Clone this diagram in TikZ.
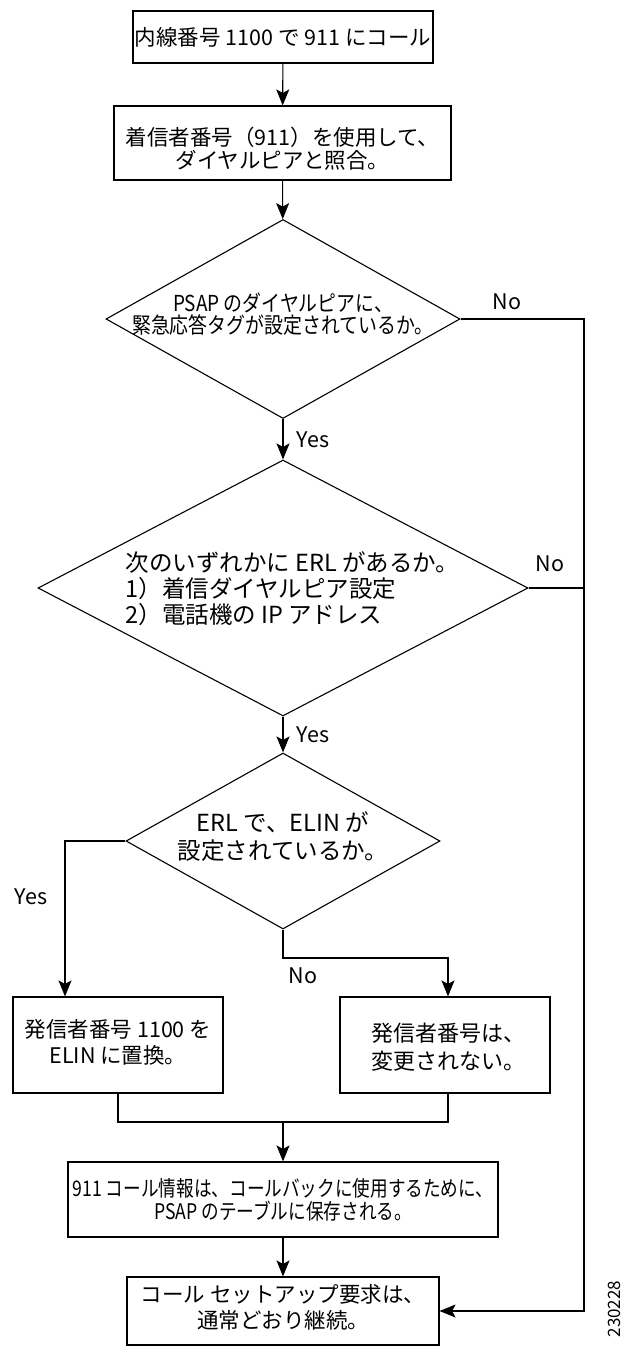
\documentclass[tikz,border=0pt]{standalone}
\usepackage{fontspec}
\setmainfont{Noto Sans CJK JP}
\newfontfamily\jpcond[FakeStretch=0.86]{Noto Sans CJK JP}
\newfontfamily\jpcondb[FakeStretch=0.82]{Noto Sans CJK JP}
\usetikzlibrary{shapes.geometric,arrows.meta}
\begin{document}
\begin{tikzpicture}[x=1pt,y=-1pt,
  line width=1.1pt,
  box/.style={draw, rectangle, inner sep=0pt},
  decision/.style={draw, diamond, inner sep=0pt},
  txt/.style={align=center, font=\fontsize{21.5}{25}\selectfont, inner sep=0pt},
  flow/.style={-{Stealth[length=16pt,width=13pt,inset=3.5pt]}},
]
\useasboundingbox (0,0) rectangle (626,1346);

\node[box, minimum width=300pt, minimum height=52pt,
  label={[txt]center:{内線番号 1100 で 911 にコール}}] (b1) at (283,37) {};
\node[box, minimum width=337pt, minimum height=74pt,
  label={[txt, font=\fontsize{21.5}{23}\selectfont, yshift=-6pt]center:{着信者番号（911）を使用して、\\ダイヤルピアと照合。}}] (b2) at (282.5,143) {};
\node[decision, minimum width=354pt, minimum height=199pt,
  label={[txt, font=\jpcond\fontsize{22}{22}\selectfont, yshift=5pt]center:{PSAP のダイヤルピアに、\\緊急応答タグが設定されているか。}}] (d1) at (283,319) {};
\node[decision, minimum width=490pt, minimum height=256pt] (d2) at (283,588) {};
\node[txt, align=left, anchor=west, font=\fontsize{23.5}{26}\selectfont] (d2t) at (125,589) {次のいずれかに ERL があるか。\\1）着信ダイヤルピア設定\\2）電話機の IP アドレス};
\node[decision, minimum width=314pt, minimum height=176pt,
  label={[txt, font=\fontsize{23.5}{28}\selectfont, yshift=4pt]center:{ERL で、ELIN が\\設定されているか。}}] (d3) at (283,841) {};
\node[box, minimum width=210pt, minimum height=96pt,
  label={[txt, font=\fontsize{21.5}{26}\selectfont, yshift=3pt]center:{発信者番号 1100 を\\ELIN に置換。}}] (lb) at (118,1045) {};
\node[box, minimum width=210pt, minimum height=96pt,
  label={[txt, font=\fontsize{22}{28}\selectfont, yshift=-2pt, xshift=3pt]center:{発信者番号は、\\変更されない。}}] (rb) at (445,1045) {};
\node[box, minimum width=430pt, minimum height=75pt,
  label={[txt, font=\jpcondb\fontsize{21.5}{23}\selectfont]center:{911 コール情報は、コールバックに使用するために、\\PSAP のテーブルに保存される。}}] (b4) at (283,1199.5) {};
\node[box, minimum width=312pt, minimum height=68pt,
  label={[txt, font=\fontsize{21.5}{26}\selectfont, yshift=4pt]center:{コール セットアップ要求は、\\通常どおり継続。}}] (b5) at (283,1311) {};

\coordinate (rail) at (584,318);
\coordinate (yx) at (65,841);
\coordinate (nx) at (448,958);
\coordinate (mj) at (283,1122);

\draw[flow] (b1) -- (b2);
\draw[flow] (b2) -- (d1);
\draw[flow] (d1) -- (d2);
\draw[flow] (d2) -- (d3);
\draw[flow] (d1.east) -| (b5.east -| rail) -- (b5.east);
\draw (d2.east) -- (d2.east -| rail);
\draw[flow] (d3.west) -| (lb.north -| yx);
\draw[flow] (d3.south) |- (nx) -- (nx |- rb.north);
\draw (lb.south) |- (mj) -| (nx |- rb.south);
\draw[flow] (mj) -- (b4);
\draw[flow] (b4) -- (b5);

\node[txt] (yes1) at (313,440) {Yes};
\node[txt] (no1) at (507,302) {No};
\node[txt] (no2) at (550,564) {No};
\node[txt] (yes2) at (313,735) {Yes};
\node[txt] (yes3) at (31,897) {Yes};
\node[txt] (no3) at (303,976) {No};
\node[font=\fontsize{17}{17}\selectfont, rotate=90, inner sep=0pt] (fig) at (614,1309) {230228};
\end{tikzpicture}
\end{document}
